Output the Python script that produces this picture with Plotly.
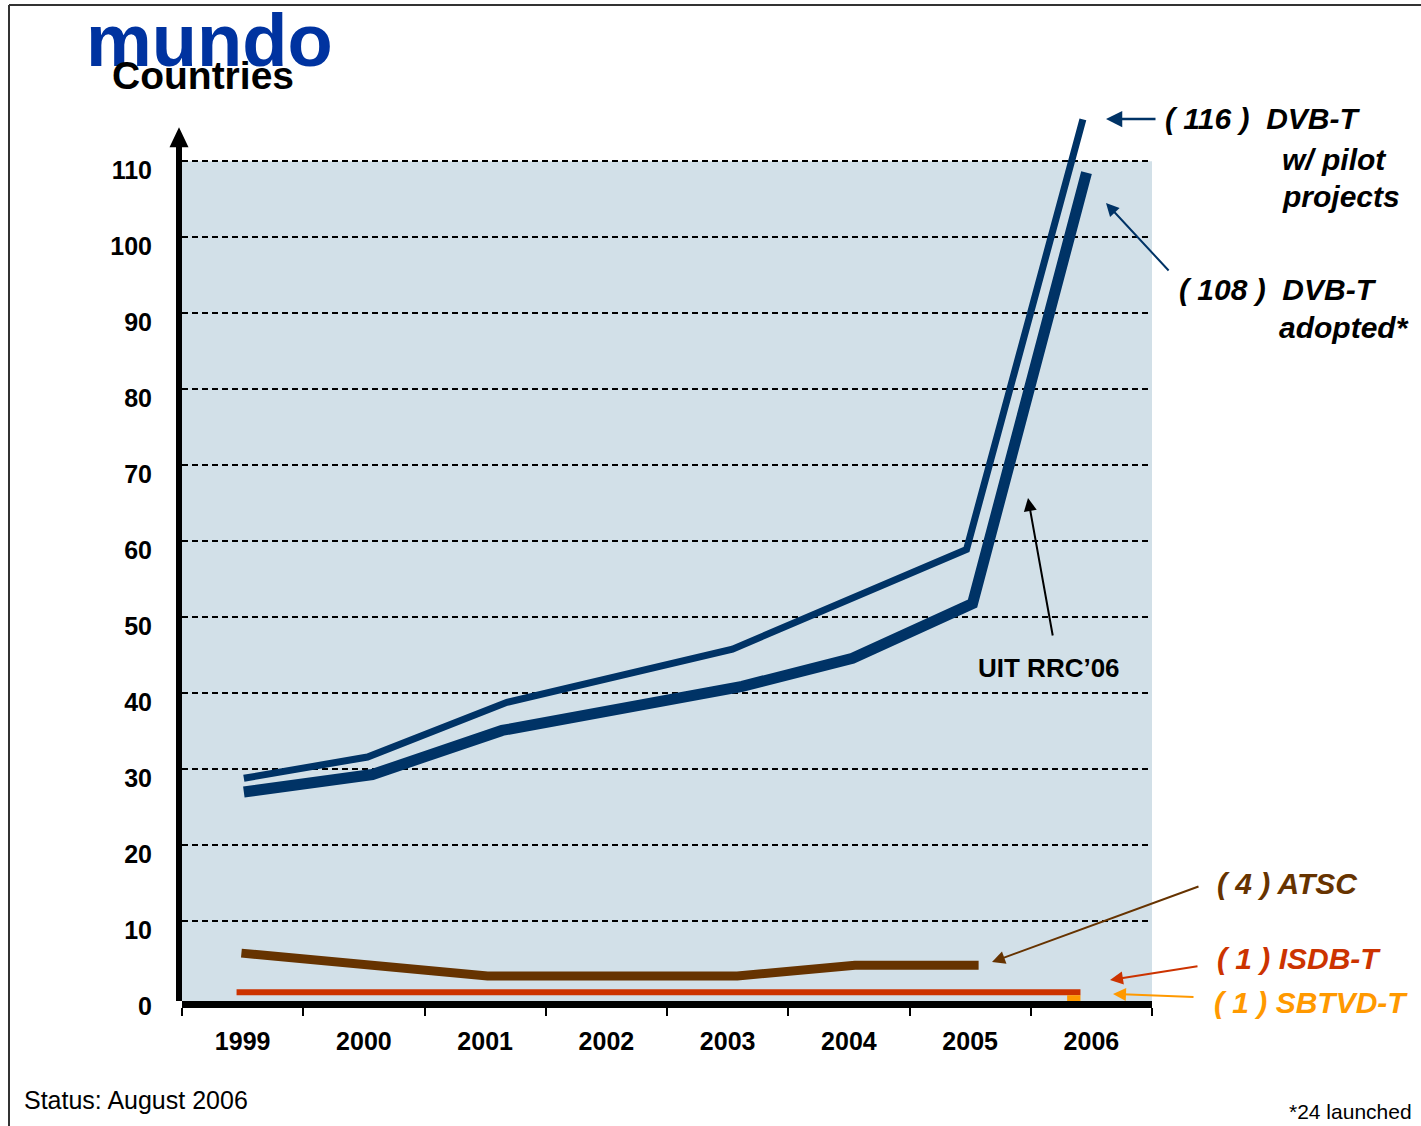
import plotly.graph_objects as go

# ---------------- data ----------------
pilot_x = [1999.01, 2000.03, 2001.18, 2003.04, 2004.97, 2005.93]
pilot_y = [28.8, 31.6, 38.8, 45.8, 58.9, 115.5]

adopted_x = [1999.01, 2000.07, 2001.14, 2003.12, 2004.03, 2005.02, 2005.96]
adopted_y = [27.0, 29.3, 35.1, 40.9, 44.6, 51.8, 108.5]

atsc_x = [1998.99, 2001.02, 2003.08, 2004.05, 2005.07]
atsc_y = [5.8, 2.8, 2.8, 4.2, 4.2]

isdb_x = [1998.95, 2005.91]
isdb_y = [0.66, 0.66]

sbtvd_x = [2005.80, 2005.91]
sbtvd_y = [-0.13, -0.13]

year_ticks = [1999, 2000, 2001, 2002, 2003, 2004, 2005, 2006]
year_labels = ["1999", "2000", "2001", "2002", "2003", "2004", "2005", "2006"]
count_ticks = [0, 10, 20, 30, 40, 50, 60, 70, 80, 90, 100, 110]

# ---------------- styling ----------------
FONT = "Liberation Sans, Arial, sans-serif"
NAVY = "#003366"
BROWN = "#663300"
RED = "#CC3300"
ORANGE = "#FF9900"
BG = "#D2E0E8"

W, H = 1421, 1126
L, R, T, B = 182, 269, 108, 125
PW, PH = W - L - R, H - T - B


def px(x):
    return (x - L) / PW


def py(y):
    return (T + PH - y) / PH


fig = go.Figure()

fig.add_trace(go.Scatter(x=isdb_x, y=isdb_y, mode="lines",
                         line=dict(color=RED, width=6), hoverinfo="skip"))
fig.add_trace(go.Scatter(x=sbtvd_x, y=sbtvd_y, mode="lines",
                         line=dict(color=ORANGE, width=6), hoverinfo="skip"))
fig.add_trace(go.Scatter(x=atsc_x, y=atsc_y, mode="lines",
                         line=dict(color=BROWN, width=9), hoverinfo="skip"))
fig.add_trace(go.Scatter(x=adopted_x, y=adopted_y, mode="lines",
                         line=dict(color=NAVY, width=11), hoverinfo="skip"))
fig.add_trace(go.Scatter(x=pilot_x, y=pilot_y, mode="lines",
                         line=dict(color=NAVY, width=7), hoverinfo="skip"))

shapes = [
    # plot background up to 110
    dict(type="rect", xref="paper", yref="y", x0=0, x1=1, y0=-0.5, y1=110,
         fillcolor=BG, line=dict(width=0), layer="below"),
    # vertical axis with arrow head
    dict(type="path", xref="paper", yref="y", xsizemode="pixel", ysizemode="pixel",
         xanchor=0, yanchor=110,
         path="M -6,-847 L -6,14 L -12.5,14 L -3,34 L 6.5,14 L 0,14 L 0,-847 Z",
         fillcolor="black", line=dict(width=0), layer="above"),
    # frame
    dict(type="line", xref="paper", yref="paper", x0=px(9), x1=px(1421), y0=py(5), y1=py(5),
         line=dict(color="#333333", width=2)),
    dict(type="line", xref="paper", yref="paper", x0=px(9), x1=px(9), y0=py(5), y1=py(1126),
         line=dict(color="#333333", width=2)),
]

ann = []


def text(x, y, s, size, color="black", bold=True, italic=False, anchor="left"):
    st = s
    if bold:
        st = "<b>" + st + "</b>"
    if italic:
        st = "<i>" + st + "</i>"
    ann.append(dict(xref="paper", yref="paper", x=px(x), y=py(y), text=st,
                    showarrow=False, xanchor=anchor, yanchor="middle",
                    font=dict(family=FONT, size=size, color=color)))


def arrow(x0, y0, x1, y1, color, width=2, size=1.3):
    ann.append(dict(xref="paper", yref="paper", x=px(x1), y=py(y1), text="",
                    showarrow=True, axref="pixel", ayref="pixel",
                    ax=x0 - x1, ay=y0 - y1, arrowhead=2, arrowsize=size,
                    arrowwidth=width, arrowcolor=color, standoff=0, startstandoff=0))


text(84, 40, "mundo", 74, color="#0033A0")
text(110, 75, "Countries", 39)

text(1163, 119, "( 116 )  DVB-T", 30, italic=True)
text(1280, 159, "w/ pilot", 30, italic=True)
text(1280, 197, "projects", 30, italic=True)
text(1177, 289, "( 108 )  DVB-T", 30, italic=True)
text(1277, 327, "adopted*", 30, italic=True)
text(976, 668, "UIT RRC’06", 26)
text(1215, 883, "( 4 ) ATSC", 30, color=BROWN, italic=True)
text(1215, 958, "( 1 ) ISDB-T", 30, color=RED, italic=True)
text(1212, 1002, "( 1 ) SBTVD-T", 30, color=ORANGE, italic=True)
text(22, 1100, "Status: August 2006", 25, bold=False)
text(1287, 1111, "*24 launched", 21, bold=False)

arrow(1157, 119, 1106, 119, NAVY, 2.5)
arrow(1170, 272, 1106, 203, NAVY, 2)
arrow(1053, 637, 1028, 498, "black", 2)
arrow(1200, 886, 992, 962, BROWN, 2)
arrow(1199, 966, 1110, 980, RED, 2)
arrow(1195, 997, 1113, 994, ORANGE, 2)

fig.update_layout(
    width=W, height=H,
    margin=dict(l=L, r=R, t=T, b=B, pad=0),
    paper_bgcolor="white", plot_bgcolor="white",
    showlegend=False,
    font=dict(family=FONT, color="black"),
    shapes=shapes, annotations=ann,
    xaxis=dict(range=[1998.5, 2006.5], tickmode="array", tickvals=year_ticks,
               ticktext=year_labels, ticks="", showgrid=False, zeroline=False,
               showline=True, linewidth=7, linecolor="black",
               tickfont=dict(family=FONT, size=25, color="black", weight="bold"),
               ticklabelstandoff=12,
               minor=dict(tickmode="linear", tick0=1998.5, dtick=1, ticks="outside",
                          ticklen=8, tickwidth=2, tickcolor="black", showgrid=False)),
    yaxis=dict(range=[-0.5, 117], tickmode="array", tickvals=count_ticks, ticks="",
               showgrid=True, gridcolor="black", gridwidth=1.5, griddash="6px,4px",
               zeroline=True, zerolinecolor=BG, zerolinewidth=1, showline=False,
               tickfont=dict(family=FONT, size=25, color="black", weight="bold"),
               ticklabelstandoff=29, ticklabelshift=9),
)

fig.write_html("out.html", config={"displayModeBar": False},
               post_script="document.body.style.margin='0px';")
